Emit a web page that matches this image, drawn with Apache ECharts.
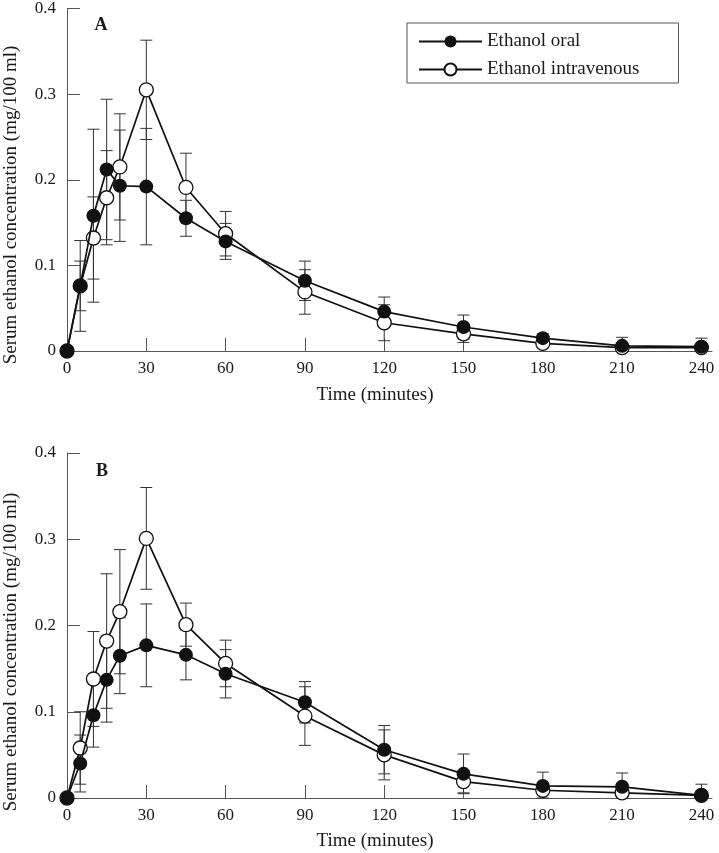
<!DOCTYPE html>
<html>
<head>
<meta charset="utf-8">
<script src="https://cdn.jsdelivr.net/npm/echarts@6/dist/echarts.min.js"></script>
<style>
  html, body { margin: 0; padding: 0; background: #fff; }
  #chart { width: 719px; height: 853px; }
</style>
</head>
<body>
<div id="chart"></div>
<script>
const times = [0, 5, 10, 15, 20, 30, 45, 60, 90, 120, 150, 180, 210, 240];
const timeTicks = [0, 30, 60, 90, 120, 150, 180, 210, 240];

// panel A
const oralA   = [0, 0.076, 0.158, 0.212, 0.193, 0.192, 0.155, 0.128, 0.082, 0.046, 0.028, 0.015, 0.006, 0.005];
const oralASd = [0, 0.053, 0.101, 0.082, 0.065, 0.068, 0.021, 0.021, 0.023, 0.017, 0.014, 0.005, 0.010, 0.010];
const ivA     = [0, 0.076, 0.132, 0.179, 0.215, 0.305, 0.191, 0.137, 0.069, 0.033, 0.020, 0.009, 0.004, 0.004];
const ivASd   = [0, 0.029, 0.048, 0.055, 0.062, 0.058, 0.040, 0.026, 0.026, 0.021, 0.010, 0.005, 0.003, 0.003];

// panel B
const oralB   = [0, 0.040, 0.096, 0.137, 0.165, 0.177, 0.166, 0.144, 0.111, 0.056, 0.028, 0.014, 0.013, 0.003];
const oralBSd = [0, 0.033, 0.037, 0.049, 0.044, 0.048, 0.029, 0.028, 0.024, 0.028, 0.023, 0.016, 0.016, 0.013];
const ivB     = [0, 0.058, 0.138, 0.182, 0.216, 0.301, 0.201, 0.156, 0.095, 0.050, 0.019, 0.009, 0.006, 0.003];
const ivBSd   = [0, 0.042, 0.055, 0.078, 0.072, 0.059, 0.025, 0.027, 0.034, 0.029, 0.013, 0.005, 0.004, 0.003];

const FONT = 'Liberation Serif';
const INK = '#111';
const AXIS = '#555';

function rows(values, sd) {
    return times.map((t, i) => sd ? [t, values[i], sd[i]] : [t, values[i]]);
}

/**
 * 평균 ± SD 오차 막대 (세로선 + 위/아래 캡)
 */
function renderErrorBar(params, api) {
    const t = api.value(0), v = api.value(1), sd = api.value(2);
    if (!sd) return null;
    const top = api.coord([t, v + sd]);
    const bottom = api.coord([t, Math.max(v - sd, 0)]);
    const half = 6;
    const style = { stroke: '#333', lineWidth: 1 };
    return {
        type: 'group',
        children: [
            { type: 'line', shape: { x1: top[0], y1: top[1], x2: bottom[0], y2: bottom[1] }, style },
            { type: 'line', shape: { x1: top[0] - half, y1: top[1], x2: top[0] + half, y2: top[1] }, style },
            { type: 'line', shape: { x1: bottom[0] - half, y1: bottom[1], x2: bottom[0] + half, y2: bottom[1] }, style }
        ]
    };
}

function errorSeries(idx, values, sd) {
    return {
        type: 'custom',
        xAxisIndex: idx, yAxisIndex: idx,
        data: rows(values, sd),
        encode: { x: 0, y: 1 },
        renderItem: renderErrorBar,
        silent: true,
        z: 2
    };
}

function lineSeries(name, idx, values, filled) {
    return {
        name,
        type: 'line',
        xAxisIndex: idx, yAxisIndex: idx,
        data: rows(values),
        symbol: 'circle',
        symbolSize: 14,
        showSymbol: true,
        lineStyle: { color: INK, width: 1.7 },
        itemStyle: filled
            ? { color: INK, borderColor: INK, borderWidth: 0 }
            : { color: '#fff', borderColor: INK, borderWidth: 1.3 },
        emphasis: { disabled: true },
        z: filled ? 4 : 3
    };
}

function xAxis(idx) {
    return {
        type: 'value', gridIndex: idx,
        min: 0, max: 244,
        axisLine: { lineStyle: { color: AXIS, width: 1 } },
        axisTick: { inside: true, length: 13, lineStyle: { color: AXIS }, customValues: timeTicks },
        axisLabel: { customValues: timeTicks, margin: 9, fontFamily: FONT, fontSize: 17, color: '#1a1a1a' },
        splitLine: { show: false }
    };
}

function yAxis(idx) {
    return {
        type: 'value', gridIndex: idx,
        min: 0, max: 0.4, interval: 0.1,
        axisLine: { show: true, lineStyle: { color: AXIS, width: 1 } },
        axisTick: { show: true, inside: true, length: 13, lineStyle: { color: AXIS } },
        axisLabel: { margin: 11, fontFamily: FONT, fontSize: 17, color: '#1a1a1a',
            formatter: v => v === 0 ? '0' : v.toFixed(1) },
        splitLine: { show: false }
    };
}

function label(text, x, y, font, rotation) {
    return {
        type: 'text', x, y,
        rotation: rotation || 0,
        style: { text, font: font || '19px "' + FONT + '"', fill: '#1a1a1a', align: 'center', verticalAlign: 'middle' }
    };
}

const yTitle = 'Serum ethanol concentration (mg/100 ml)';
const letterFont = 'bold 18px "' + FONT + '"';

const chart = echarts.init(document.getElementById('chart'));
chart.setOption({
    animation: false,
    backgroundColor: '#fff',
    grid: [
        { left: 67, top: 6, width: 645, height: 345 },
        { left: 67, top: 453, width: 645, height: 345 }
    ],
    xAxis: [xAxis(0), xAxis(1)],
    yAxis: [yAxis(0), yAxis(1)],
    legend: {
        data: ['Ethanol oral', 'Ethanol intravenous'],
        orient: 'vertical',
        left: 407, top: 23,
        itemWidth: 63, itemHeight: 15, itemGap: 9,
        padding: [9, 39, 4, 11],
        borderColor: AXIS, borderWidth: 1,
        selectedMode: false,
        textStyle: { fontFamily: FONT, fontSize: 19, color: '#1a1a1a' }
    },
    graphic: [
        label('A', 101, 25, letterFont),
        label('B', 102, 471, letterFont),
        label('Time (minutes)', 375, 395),
        label('Time (minutes)', 375, 841),
        label(yTitle, 11, 205, null, Math.PI / 2),
        label(yTitle, 11, 652, null, Math.PI / 2)
    ],
    series: [
        errorSeries(0, ivA, ivASd),
        errorSeries(0, oralA, oralASd),
        lineSeries('Ethanol intravenous', 0, ivA, false),
        lineSeries('Ethanol oral', 0, oralA, true),
        errorSeries(1, ivB, ivBSd),
        errorSeries(1, oralB, oralBSd),
        lineSeries('Ethanol intravenous', 1, ivB, false),
        lineSeries('Ethanol oral', 1, oralB, true)
    ]
});
</script>
</body>
</html>
